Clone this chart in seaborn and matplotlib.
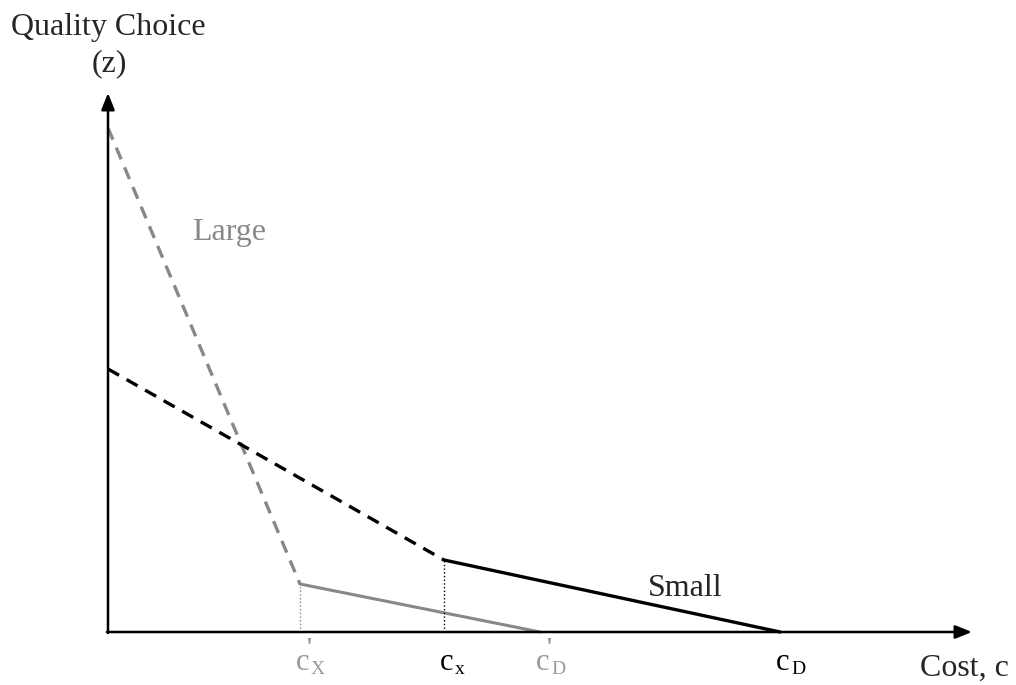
import numpy as np
import pandas as pd
import matplotlib
matplotlib.use("Agg")
import matplotlib.pyplot as plt
from matplotlib.patches import Rectangle
import seaborn as sns

# Quality choice vs cost (arbitrary units)
large_costo = [0.0, 1.92, 4.32]      # 0, c'X, c'D
large_calidad = [5.04, 0.48, 0.0]
small_costo = [0.0, 3.36, 6.72]      # 0, cx, cD
small_calidad = [2.63, 0.72, 0.0]

# Etiquetas del eje x
pos_etiquetas = [large_costo[1], small_costo[1], large_costo[2], small_costo[2]]
subindices = ["X", "x", "D", "D"]
con_prima = [True, False, True, False]

sns.set_style("white")
plt.rcParams['font.family'] = ['Liberation Serif', 'DejaVu Serif']

gris = "#888888"
gris_texto = "#999999"
color_etiquetas = [gris_texto, "black", gris_texto, "black"]

fig = plt.figure(figsize=(10.16, 6.85), dpi=100)
ax = fig.add_axes([0, 0, 1, 1])
ax.set_xlim(-1.08, 9.08)
ax.set_ylim(-0.53, 6.32)
ax.axis('off')

guiones = (0, (3.8, 2.6))

# Large: tramo discontinuo y tramo sólido
sns.lineplot(x=large_costo[:2], y=large_calidad[:2], ax=ax, color=gris,
             lw=2.4, linestyle=guiones, estimator=None, sort=False)
sns.lineplot(x=large_costo[1:], y=large_calidad[1:], ax=ax, color=gris,
             lw=2.2, estimator=None, sort=False)

# Small
sns.lineplot(x=small_costo[:2], y=small_calidad[:2], ax=ax, color='black',
             lw=2.4, linestyle=guiones, estimator=None, sort=False)
sns.lineplot(x=small_costo[1:], y=small_calidad[1:], ax=ax, color='black',
             lw=2.4, estimator=None, sort=False)

# Líneas punteadas verticales
ax.plot([large_costo[1]] * 2, [0, large_calidad[1]], color=gris, lw=1, ls=':')
ax.plot([small_costo[1]] * 2, [0, small_calidad[1]], color='black', lw=1, ls=':')

# Ejes con flechas
flecha = dict(arrowstyle='-|>,head_length=1.0,head_width=0.4',
              color='black', lw=1.8, shrinkA=0, shrinkB=0)
ax.annotate('', xy=(0, 5.39), xytext=(0, -0.01), arrowprops=flecha)
ax.annotate('', xy=(8.64, 0), xytext=(-0.01, 0), arrowprops=flecha)

# Textos
ax.text(0.0, 6.05, "Quality Choice", fontsize=23, ha='center', va='center')
ax.text(0.01, 5.68, "(z)", fontsize=23, ha='center', va='center')
ax.text(0.84, 4.0, "Large", fontsize=23, ha='left', va='center', color=gris)
ax.text(5.40, 0.43, "Small", fontsize=23, ha='left', va='center')
t = ax.text(8.12, -0.36, "Cost, c", fontsize=23, ha='left', va='center')
t.set_clip_path(Rectangle((-1.08, -0.38), 10.16, 7.0, transform=ax.transData))

for pos, sub, prima, col in zip(pos_etiquetas, subindices, con_prima, color_etiquetas):
    ax.text(pos - 0.04, -0.31, "c", fontsize=22, ha='left', va='center', color=col)
    ax.text(pos + 0.11, -0.37, sub, fontsize=14, ha='left', va='center', color=col)
    if prima:
        ax.text(pos + 0.085, -0.23, "'", fontsize=18, fontweight='bold',
                ha='center', va='baseline', color=col)

fig.savefig("out.png", dpi=100)
